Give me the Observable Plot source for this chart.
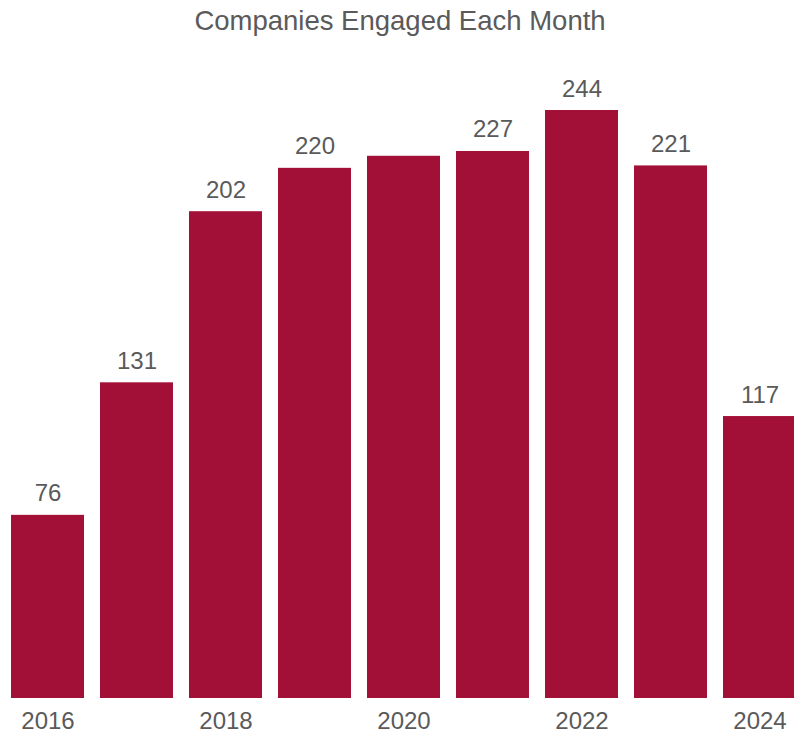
<!DOCTYPE html>
<html>
<head>
<meta charset="utf-8">
<script src="https://cdn.jsdelivr.net/npm/d3@7"></script>
<script src="https://cdn.jsdelivr.net/npm/@observablehq/plot@0.6"></script>
<style>
  html, body { margin: 0; padding: 0; background: #fff; overflow: hidden; }
  #title {
    height: 42px; line-height: 41px; text-align: center;
    font-family: "Liberation Sans", Arial, sans-serif; font-size: 27.5px; color: #5a5a5a;
    width: 800px; overflow: hidden; white-space: nowrap;
  }
</style>
</head>
<body>
<div id="title">Companies Engaged Each Month</div>
<div id="chart"></div>
<script>
const years = [2016, 2017, 2018, 2019, 2020, 2021, 2022, 2023, 2024];
const values = [76, 131, 202, 220, 225, 227, 244, 221, 117];
const labelYears = [2016, 2017, 2018, 2019, 2021, 2022, 2023, 2024];
const tickYears = [2016, 2018, 2020, 2022, 2024];

const data = years.map((y, i) => ({year: y, value: values[i]}));
const labelData = data.filter(d => labelYears.includes(d.year));

const chart = Plot.plot({
  width: 794,
  height: 695,
  marginTop: 68,
  marginBottom: 39,
  marginLeft: 10,
  marginRight: 0,
  style: {fontFamily: "'Liberation Sans', Arial, sans-serif", fontSize: "24px", color: "#5a5a5a", background: "white"},
  x: {domain: years, range: [10, 797], paddingInner: 0.18, paddingOuter: 0, label: null, ticks: tickYears, tickSize: 0, tickPadding: 13, tickFormat: d => String(d)},
  y: {domain: [0, d3.max(values)], axis: null},
  marks: [
    Plot.barY(data, {x: "year", y: "value", fill: "#a20f37"}),
    Plot.text(labelData, {x: "year", y: "value", text: d => String(d.value), lineAnchor: "bottom", dy: -14, fill: "#5a5a5a", fontSize: 24})
  ]
});
document.getElementById("chart").appendChild(chart);
</script>
</body>
</html>
